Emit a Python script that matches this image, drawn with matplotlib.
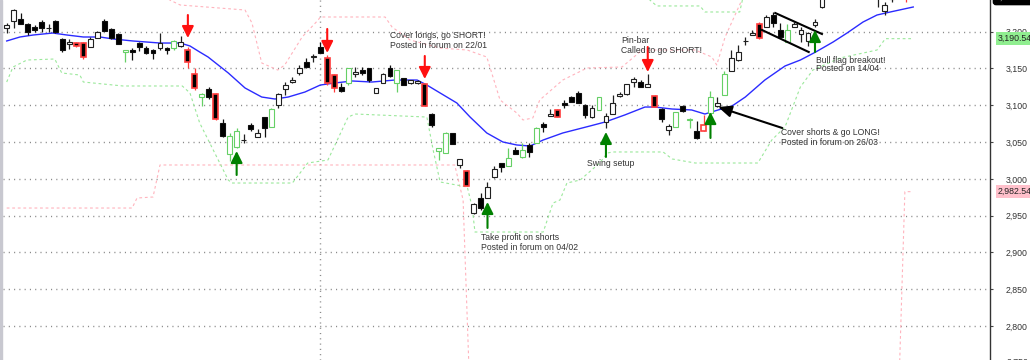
import numpy as np
import matplotlib
matplotlib.use("Agg")
import matplotlib.pyplot as plt
import matplotlib.transforms as mtransforms
from matplotlib.patches import Rectangle

plt.rcParams['font.family'] = ['Liberation Sans', 'DejaVu Sans']

# ---------------- data ----------------
opens = [3205.0, 3214.6, 3217.3, 3210.5, 3206.4, 3213.2, 3205.0, 3214.6, 3190.1, 3183.3,
         3184.6, 3184.6, 3179.2, 3191.4, 3214.6, 3203.7, 3196.9, 3172.4, 3175.1, 3184.6,
         3177.8, 3175.1, 3177.8, 3177.8, 3177.8, 3180.6, 3175.1, 3142.5, 3111.2, 3122.1,
         3115.3, 3075.9, 3033.8, 3043.3, 3052.1, 3073.2, 3056.9, 3084.0, 3070.5, 3100.4,
         3122.1, 3131.6, 3143.9, 3158.8, 3165.6, 3179.2, 3164.3, 3141.1, 3124.8, 3130.3,
         3142.5, 3147.9, 3150.7, 3116.7, 3130.3, 3150.7, 3130.3, 3137.1, 3130.3, 3130.3,
         3128.9, 3088.1, 3037.8, 3035.1, 3062.3, 3018.8, 3010.7, 2953.5, 2973.9, 2973.9,
         3002.5, 3021.5, 3017.5, 3039.2, 3029.7, 3046.0, 3048.7, 3074.5, 3085.4, 3093.6,
         3103.1, 3111.2, 3116.7, 3100.4, 3084.0, 3093.6, 3077.3, 3088.1, 3112.6, 3115.3,
         3131.6, 3131.6, 3124.8, 3112.6, 3094.9, 3066.4, 3070.5, 3099.0, 3080.0, 3065.0,
         3065.0, 3089.5, 3099.0, 3114.0, 3146.6, 3161.5, 3186.7, 3195.5, 3210.5, 3206.4,
         3222.7, 3202.3, 3186.0, 3206.4, 3196.9, 3187.4, 3209.1, 3233.6, 3250.0, 3258.0,
         3252.0, 3266.0, 3274.0, 3265.0, 3268.0, 3246.0, 3228.1, 3244.0, 3256.0, 3248.0]
highs = [3211.8, 3230.9, 3225.4, 3211.8, 3209.1, 3215.9, 3210.5, 3215.9, 3191.4, 3190.1,
         3186.0, 3186.0, 3192.8, 3200.9, 3217.3, 3205.0, 3198.2, 3175.1, 3177.8, 3186.0,
         3180.6, 3176.5, 3198.2, 3179.2, 3188.7, 3194.2, 3179.2, 3150.7, 3116.7, 3124.8,
         3116.7, 3081.3, 3062.3, 3069.1, 3060.9, 3075.9, 3067.7, 3084.0, 3096.3, 3116.7,
         3131.6, 3138.4, 3154.7, 3164.3, 3169.7, 3186.0, 3168.3, 3142.5, 3130.3, 3150.7,
         3152.0, 3152.0, 3150.7, 3123.5, 3143.9, 3154.7, 3147.9, 3137.1, 3134.3, 3134.3,
         3128.9, 3089.5, 3041.9, 3063.7, 3062.3, 3027.0, 3012.0, 2967.1, 2980.7, 2995.7,
         3017.5, 3021.5, 3041.9, 3043.3, 3048.7, 3048.7, 3070.5, 3077.3, 3094.9, 3094.9,
         3107.2, 3112.6, 3119.4, 3101.7, 3100.4, 3111.2, 3089.5, 3114.0, 3118.0, 3128.9,
         3138.4, 3134.3, 3142.5, 3114.0, 3096.3, 3074.5, 3090.8, 3100.4, 3082.7, 3078.6,
         3086.8, 3119.4, 3111.2, 3146.6, 3175.1, 3181.9, 3192.8, 3202.3, 3213.2, 3222.7,
         3226.8, 3211.8, 3210.5, 3213.2, 3206.4, 3199.6, 3217.3, 3254.0, 3262.0, 3265.0,
         3270.0, 3278.0, 3280.0, 3276.0, 3272.0, 3252.0, 3240.4, 3256.0, 3262.0, 3252.0]
lows = [3198.2, 3205.0, 3210.5, 3195.5, 3199.6, 3199.6, 3199.6, 3198.2, 3172.4, 3176.5,
        3179.2, 3162.9, 3179.2, 3191.4, 3200.9, 3190.1, 3183.3, 3158.8, 3161.5, 3173.8,
        3169.7, 3162.9, 3175.1, 3169.7, 3175.1, 3179.2, 3150.7, 3120.8, 3099.0, 3108.5,
        3080.0, 3056.9, 3024.2, 3041.9, 3048.7, 3065.0, 3056.9, 3056.9, 3070.5, 3096.3,
        3114.0, 3130.3, 3141.1, 3150.7, 3158.8, 3171.1, 3127.5, 3118.0, 3118.0, 3127.5,
        3138.4, 3141.1, 3131.6, 3116.7, 3130.3, 3138.4, 3118.0, 3127.5, 3128.9, 3128.9,
        3099.0, 3070.5, 3025.6, 3035.1, 3047.3, 3014.7, 2990.3, 2952.2, 2957.6, 2973.9,
        3001.1, 3009.3, 3017.5, 3033.8, 3028.3, 3029.7, 3048.7, 3063.7, 3085.4, 3084.0,
        3096.3, 3104.4, 3103.1, 3082.7, 3082.7, 3093.6, 3069.1, 3088.1, 3111.2, 3114.0,
        3124.8, 3124.8, 3124.8, 3097.6, 3077.3, 3059.6, 3070.5, 3090.8, 3069.1, 3054.1,
        3065.0, 3089.5, 3097.6, 3114.0, 3146.6, 3160.2, 3181.9, 3195.5, 3190.1, 3206.4,
        3206.4, 3192.8, 3186.0, 3206.4, 3186.0, 3180.6, 3206.4, 3232.2, 3246.0, 3248.0,
        3250.0, 3262.0, 3262.0, 3258.0, 3252.0, 3233.6, 3222.7, 3240.0, 3246.0, 3240.4]
closes = [3209.1, 3229.5, 3210.5, 3199.6, 3202.3, 3205.0, 3205.7, 3199.6, 3175.1, 3186.0,
          3180.6, 3165.6, 3190.1, 3199.6, 3200.9, 3191.4, 3183.3, 3175.1, 3172.4, 3179.2,
          3171.1, 3171.1, 3184.6, 3175.1, 3187.4, 3186.0, 3158.8, 3123.5, 3115.3, 3111.2,
          3081.3, 3058.2, 3058.2, 3065.0, 3052.8, 3067.7, 3062.3, 3069.1, 3094.9, 3115.3,
          3127.5, 3134.3, 3150.7, 3152.0, 3167.0, 3171.1, 3130.3, 3123.5, 3119.4, 3150.7,
          3145.2, 3143.9, 3134.3, 3123.5, 3142.5, 3139.8, 3147.9, 3127.5, 3134.3, 3133.0,
          3099.0, 3073.2, 3041.9, 3062.3, 3047.3, 3027.0, 2990.3, 2965.8, 2960.3, 2988.9,
          3013.4, 3016.1, 3028.3, 3033.8, 3039.2, 3036.5, 3069.1, 3070.5, 3088.1, 3084.0,
          3100.4, 3104.4, 3103.1, 3086.8, 3096.3, 3111.2, 3085.4, 3103.1, 3115.3, 3128.9,
          3135.7, 3124.8, 3128.9, 3097.6, 3081.3, 3071.8, 3090.8, 3092.2, 3081.3, 3055.5,
          3073.2, 3111.2, 3103.1, 3142.5, 3164.3, 3172.4, 3187.4, 3198.2, 3191.4, 3220.0,
          3211.8, 3192.8, 3202.3, 3210.5, 3202.3, 3198.2, 3213.2, 3249.9, 3258.0, 3252.0,
          3266.0, 3274.0, 3265.0, 3270.0, 3256.0, 3247.0, 3236.3, 3252.0, 3250.0, 3244.0]
# w = up (hollow), b = down (black), g = up highlighted green, r = down highlighted red, R = up highlighted red
candle_style = ("wwbbbbwbbw" "rrwwbbbgbb" "bbwbgwrrgb" "rbggwbwbgw" "wwwbwbrrbg"
                "wbbwwbgbww" "rbggbwrwbw" "wbgbgbgbwr" "bbbbwgwwww" "wbwrbwgbgb"
                "Rgwgwwwwrw" "bbgwwwwwwb" "wwbwbwwwbr")

# moving average (bar index, value)
ma_idx = [0.0, 1.9, 3.8, 6.6, 8.65, 11.0, 13.4, 15.3, 18.1, 22.0, 24.9, 26.3, 27.7, 28.9,
          31.8, 34.2, 36.6, 38.5, 40.4, 42.8, 45.0, 47.1, 49.6, 52.4, 55.7, 58.9, 60.3, 62.2,
          64.6, 66.5, 68.9, 71.2, 73.2, 75.1, 77.0, 79.8, 83.7, 85.9, 88.7, 91.6, 93.0, 95.5,
          98.3, 100.2, 102.1, 104.1, 106.0, 108.8, 111.7, 113.9, 116.1, 118.6, 120.6, 122.9,
          124.9, 126.8, 130.1]
ma_val = [3187.4, 3192.8, 3195.5, 3198.2, 3195.5, 3192.8, 3192.8, 3190.1, 3187.4, 3184.6,
          3184.6, 3180.6, 3172.4, 3165.6, 3143.9, 3123.5, 3111.2, 3108.5, 3111.2, 3118.0,
          3127.5, 3130.3, 3133.0, 3131.6, 3134.3, 3134.3, 3127.5, 3116.7, 3103.1, 3084.0,
          3062.3, 3050.1, 3046.0, 3044.6, 3052.8, 3062.3, 3071.8, 3077.3, 3086.8, 3097.6,
          3097.6, 3094.9, 3093.6, 3088.1, 3093.6, 3099.0, 3111.2, 3134.3, 3153.4, 3161.5,
          3172.4, 3186.0, 3198.2, 3213.2, 3222.7, 3226.8, 3233.6]

# upper (pink) band
pink_up_idx = [22.0, 23.4, 24.9, 34.2, 35.2, 36.6, 38.9, 39.9, 42.4, 44.7, 45.0, 54.3, 55.3,
               57.9, 62.2, 66.1, 68.9, 70.8, 73.2, 74.1, 75.5, 76.5, 79.8, 83.3, 88.3, 91.2,
               98.8, 101.2, 101.9, 103.1, 105.5, 106.7]
pink_up_val = [3256.7, 3243.1, 3236.3, 3229.5, 3211.8, 3157.5, 3147.9, 3154.7, 3192.8, 3215.9,
               3220.0, 3220.0, 3206.4, 3188.7, 3177.8, 3175.1, 3165.6, 3107.2, 3089.5, 3080.0,
               3082.7, 3107.2, 3134.3, 3150.7, 3152.0, 3175.1, 3175.1, 3165.6, 3154.7, 3192.8,
               3243.1, 3256.7]
# lower (pink) band
pink_lo_idx = [0.0, 18.0, 18.7, 21.0, 22.0, 64.3, 65.5, 66.5, 127.9, 128.9, 130.0]
pink_lo_val = [2960.3, 2960.3, 2973.9, 2975.3, 3018.8, 3018.8, 2971.2, 2699.0, 2672.0,
               2982.54, 2982.54]
# lower (green) band
green_lo_idx = [0.0, 0.9, 2.9, 6.9, 7.9, 10.5, 11.0, 16.7, 25.2, 26.3, 27.7, 31.8, 32.3, 41.0,
                43.2, 46.1, 49.0, 50.0, 60.3, 61.2, 62.2, 66.1, 66.8, 67.2, 77.0, 78.4, 79.4,
                80.4, 82.3, 85.1, 86.2, 87.0, 94.2, 95.5, 98.8, 107.8, 109.8, 111.7, 113.9,
                115.7, 119.6, 124.9, 126.1, 130.0]
green_lo_val = [3131.6, 3152.0, 3161.5, 3162.9, 3143.9, 3141.1, 3131.6, 3126.2, 3126.2, 3116.7,
                3075.9, 2998.4, 2994.3, 2994.3, 3021.5, 3025.6, 3084.0, 3088.1, 3084.0, 3039.2,
                2995.7, 2988.9, 2961.7, 2927.7, 2927.7, 2967.1, 2971.2, 2994.3, 2998.4, 3021.5,
                3035.1, 3036.5, 3036.5, 3027.0, 3021.5, 3021.5, 3052.8, 3070.5, 3124.8, 3147.9,
                3164.3, 3175.1, 3190.54, 3190.54]
# upper (green) band
green_up_idx = [91.6, 92.3, 93.3, 99.5, 100.2, 105.2, 105.9]
green_up_val = [3256.7, 3243.1, 3235.0, 3235.0, 3226.8, 3226.8, 3256.7]

tick_vals = [2800, 2850, 2900, 2950, 3000, 3050, 3100, 3150, 3200]
tick_labels = ["2,800", "2,850", "2,900", "2,950", "3,000", "3,050", "3,100", "3,150", "3,200"]

# signals: (bar index, tail, tip)
red_arrows = [(26, 3222.7, 3191.4), (46, 3203.7, 3171.1), (60, 3167.0, 3135.7), (92, 3179.2, 3145.2)]
green_arrows = [(33, 3005.2, 3037.8), (69, 2933.2, 2968.5), (86, 3029.7, 3063.7),
                (101, 3055.5, 3090.8), (116, 3172.4, 3202.3)]

notes = [
    (55.0, 3195.5, "Cover longs, go SHORT!"), (55.0, 3181.9, "Posted in forum on 22/01"),
    (88.2, 3188.7, "Pin-bar"), (88.2, 3175.1, "Called to go SHORT!"),
    (83.3, 3021.5, "Swing setup"),
    (68.1, 2919.6, "Take profit on shorts"), (68.1, 2906.0, "Posted in forum on 04/02"),
    (116.1, 3161.5, "Bull flag breakout!"), (116.1, 3149.3, "Posted on 14/04"),
    (111.1, 3062.3, "Cover shorts & go LONG!"), (111.1, 3048.7, "Posted in forum on 26/03"),
]

# ---------------- figure ----------------
W, H = 1030, 360
fig = plt.figure(figsize=(W / 100, H / 100), dpi=100)
ax = fig.add_axes([3 / W, 0, 987 / W, 1])
ax.set_facecolor('white')

xmin = -0.531
ax.set_xlim(xmin, xmin + 987 / 6.968)
ax.set_ylim(2753.7, 3243.1)

# grid
for v in tick_vals:
    ax.axhline(v, color='#8a8a8a', lw=1.0, ls=(0, (0.8, 3.0)), zorder=1)
ax.axvline(45, color='#8a8a8a', lw=1.0, ls=(0, (0.8, 3.0)), zorder=1)

# bands
ax.plot(pink_up_idx, pink_up_val, color='#ffb3bd', lw=0.8, ls=(0, (2.5, 2.5)), zorder=2)
ax.plot(pink_lo_idx, pink_lo_val, color='#ffb3bd', lw=0.8, ls=(0, (2.5, 2.5)), zorder=2)
ax.plot(green_lo_idx, green_lo_val, color='#9be89b', lw=0.8, ls=(0, (2.5, 2.5)), zorder=2)
ax.plot(green_up_idx, green_up_val, color='#9be89b', lw=0.8, ls=(0, (2.5, 2.5)), zorder=2)

# moving average
ax.plot(ma_idx, ma_val, color='#2b2bff', lw=1.0, zorder=3)

# candles
edge_map = {'w': '#202020', 'b': '#101010', 'g': '#66d066', 'r': '#ff3c3c', 'R': '#ff3c3c'}
face_map = {'w': 'white', 'b': 'black', 'g': 'white', 'r': 'black', 'R': 'white'}
for i in range(len(opens)):
    o, h, l, c = opens[i], highs[i], lows[i], closes[i]
    st = candle_style[i]
    ec = edge_map[st]
    lw = 1.2 if st in 'rR' else 0.8
    ax.vlines(i, l, h, color=ec, lw=0.9, zorder=4)
    ax.bar(i, max(abs(c - o), 0.4), bottom=min(o, c), width=0.7, color=face_map[st],
           edgecolor=ec, linewidth=lw, zorder=5)

# flag channel
ax.plot([110.3, 117.0], [3225.4, 3196.9], color='black', lw=1.5, zorder=6)
ax.plot([108.4, 115.1], [3202.3, 3172.4], color='black', lw=1.5, zorder=6)

# arrows
for i, y0, y1 in red_arrows:
    ax.annotate('', xy=(i, y1), xytext=(i, y0), zorder=7,
                arrowprops=dict(arrowstyle='-|>,head_length=0.7,head_width=0.35', color='#ff1010',
                                lw=1.5, shrinkA=0, shrinkB=0, mutation_scale=10))
for i, y0, y1 in green_arrows:
    ax.annotate('', xy=(i, y1), xytext=(i, y0), zorder=7,
                arrowprops=dict(arrowstyle='-|>,head_length=0.7,head_width=0.35', color='#008000',
                                lw=1.5, shrinkA=0, shrinkB=0, mutation_scale=10))
ax.annotate('', xy=(102.1, 3097.6), xytext=(111.3, 3069.1), zorder=7,
            arrowprops=dict(arrowstyle='-|>,head_length=0.8,head_width=0.35', color='black',
                            lw=1.5, shrinkA=0, shrinkB=0, mutation_scale=10))

for xi, yv, s in notes:
    ax.text(xi, yv, s, fontsize=6.2, color='#333333', ha='left', va='center', zorder=8)

# axes styling
for sp in ['top', 'left', 'bottom']:
    ax.spines[sp].set_visible(False)
ax.spines['right'].set_color('#333333')
ax.spines['right'].set_linewidth(1.0)
ax.set_xticks([])
ax.yaxis.tick_right()
ax.set_yticks(tick_vals)
ax.set_yticklabels(tick_labels)
ax.tick_params(axis='y', length=2.5, width=0.8, color='#444444', pad=9, labelsize=6.3,
               labelcolor='#333333')

trans = mtransforms.blended_transform_factory(ax.transAxes, ax.transData)
ax.text(1.0 + 17 / 987, 2750, "2,750", transform=trans, fontsize=6.3, color='#333333',
        ha='left', va='center', clip_on=False)
ax.text(1.0 + 8 / 987, 3190.54, "3,190.54", transform=trans, fontsize=6.3, color='#222222',
        ha='left', va='center', clip_on=False,
        bbox=dict(boxstyle='square,pad=0.2', fc='#90ee90', ec='none'))
ax.text(1.0 + 8 / 987, 2982.54, "2,982.54", transform=trans, fontsize=6.3, color='#222222',
        ha='left', va='center', clip_on=False,
        bbox=dict(boxstyle='square,pad=0.2', fc='#ffc0cb', ec='none'))
ax.text(1.0 + 6 / 987, 3246.5, "3,243.58", transform=trans, fontsize=6.3, color='white',
        ha='left', va='center', clip_on=False,
        bbox=dict(boxstyle='round,pad=0.3', fc='black', ec='black'))

fig.patches.append(Rectangle((0, 0), 2 / W, 1, transform=fig.transFigure,
                             color='#c8c8d0', zorder=0))

fig.savefig('out.png', dpi=100, facecolor='white')
